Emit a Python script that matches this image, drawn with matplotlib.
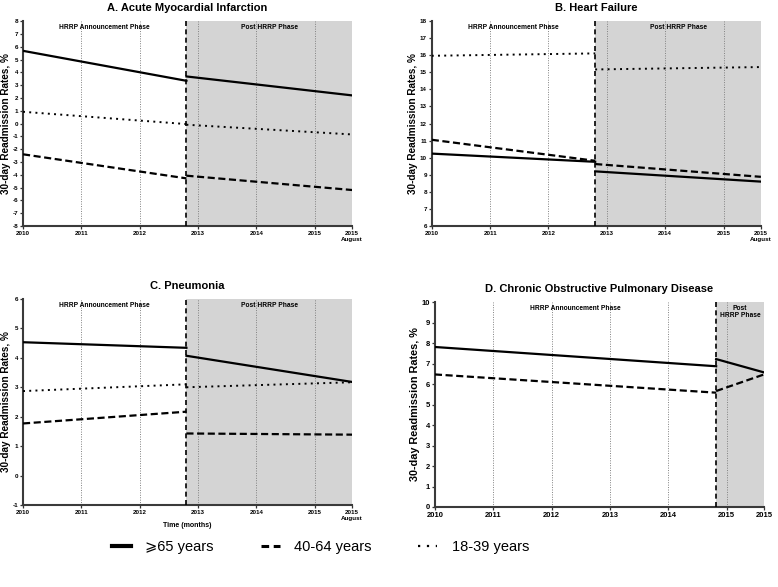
import matplotlib
matplotlib.use("Agg")
import matplotlib.pyplot as plt
from matplotlib.lines import Line2D

plt.rcParams['font.family'] = ['Liberation Sans', 'DejaVu Sans']
plt.rcParams['axes.unicode_minus'] = False

# data: each list = [pre start, pre end, post start, post end]
start_year = 2010
end_year = 2015.64
tick_pos = [2010, 2011, 2012, 2013, 2014, 2015, 2015.64]
tick_labels_a = ['2010', '2011', '2012', '2013', '2014', '2015', '2015\nAugust']
tick_labels_d = ['2010', '2011', '2012', '2013', '2014', '2015', '2015']

ami_65 = [5.68, 3.34, 3.68, 2.20]
ami_40 = [-2.40, -4.28, -4.07, -5.19]
ami_18 = [0.92, -0.04, -0.09, -0.85]

hf_65 = [10.24, 9.76, 9.20, 8.60]
hf_40 = [11.05, 9.82, 9.63, 8.88]
hf_18 = [15.97, 16.11, 15.17, 15.31]

pn_65 = [4.53, 4.34, 4.07, 3.18]
pn_40 = [1.77, 2.17, 1.43, 1.39]
pn_18 = [2.87, 3.10, 3.00, 3.17]

copd_65 = [7.81, 6.87, 7.22, 6.57]
copd_40 = [6.47, 5.58, 5.66, 6.47]

styles = {
    '65': dict(color='black', lw=1.6, linestyle='-'),
    '40': dict(color='black', lw=1.6, linestyle=(0, (3.2, 1.6))),
    '18': dict(color='black', lw=1.4, linestyle=(0, (1, 2.2))),
}


def draw_panel(ax, title, div, series, ylim, ticklabels, small=True):
    ax.axvspan(div, end_year, color='#d4d4d4', zorder=0, lw=0)
    for x in tick_pos[1:]:
        ax.axvline(x, color='#808080', lw=0.7, linestyle=(0, (1, 1.5)), zorder=1)
    ax.axvline(div, color='black', lw=1.2, linestyle=(0, (3, 2)), zorder=3)
    for key, vals in series:
        ax.plot([start_year, div], vals[:2], zorder=4, **styles[key])
        ax.plot([div, end_year], vals[2:], zorder=4, **styles[key])
    ax.set_xlim(start_year, end_year)
    ax.set_ylim(*ylim)
    ax.set_yticks(range(ylim[0], ylim[1] + 1))
    ax.set_xticks(tick_pos)
    fs = 4.5 if small else 5.5
    ax.set_xticklabels(ticklabels, fontsize=fs, fontweight='bold')
    for lab in ax.get_yticklabels():
        lab.set_fontsize(fs)
        lab.set_fontweight('bold')
    ax.tick_params(length=2.5, width=0.9, pad=1, color='#333333')
    for s in ['top', 'right']:
        ax.spines[s].set_visible(False)
    for s in ['left', 'bottom']:
        ax.spines[s].set_color('#3a3a3a')
        ax.spines[s].set_linewidth(1.5)
    ax.set_ylabel('30-day Readmission Rates, %', fontsize=7.2 if small else 7.8,
                  fontweight='bold', labelpad=1)
    ax.set_title(title, fontsize=8, fontweight='bold', pad=7)
    ax.text((start_year + div) / 2, 0.985, 'HRRP Announcement Phase', transform=ax.get_xaxis_transform(),
            ha='center', va='top', fontsize=4.8, fontweight='bold', zorder=5)


fig = plt.figure(figsize=(7.78, 5.87), dpi=100)

ax_a = fig.add_axes([0.0296, 0.615, 0.423, 0.349])
draw_panel(ax_a, 'A. Acute Myocardial Infarction', 2012.8,
           [('65', ami_65), ('40', ami_40), ('18', ami_18)], (-8, 8), tick_labels_a)
ax_a.text((2012.8 + end_year) / 2, 0.985, 'Post HRRP Phase', transform=ax_a.get_xaxis_transform(),
          ha='center', va='top', fontsize=4.8, fontweight='bold')

ax_b = fig.add_axes([0.555, 0.615, 0.423, 0.349])
draw_panel(ax_b, 'B. Heart Failure', 2012.8,
           [('65', hf_65), ('40', hf_40), ('18', hf_18)], (6, 18), tick_labels_a)
ax_b.text((2012.8 + end_year) / 2, 0.985, 'Post HRRP Phase', transform=ax_b.get_xaxis_transform(),
          ha='center', va='top', fontsize=4.8, fontweight='bold')

ax_c = fig.add_axes([0.0296, 0.1397, 0.423, 0.351])
draw_panel(ax_c, 'C. Pneumonia', 2012.8,
           [('65', pn_65), ('40', pn_40), ('18', pn_18)], (-1, 6), tick_labels_a)
ax_c.text((2012.8 + end_year) / 2, 0.985, 'Post HRRP Phase', transform=ax_c.get_xaxis_transform(),
          ha='center', va='top', fontsize=4.8, fontweight='bold')
ax_c.set_xlabel('Time (months)', fontsize=5, fontweight='bold', labelpad=1)

ax_d = fig.add_axes([0.559, 0.1363, 0.423, 0.349])
draw_panel(ax_d, 'D. Chronic Obstructive Pulmonary Disease', 2014.82,
           [('65', copd_65), ('40', copd_40)], (0, 10), tick_labels_d, small=False)
ax_d.text((2014.82 + end_year) / 2, 0.985, 'Post\nHRRP Phase', transform=ax_d.get_xaxis_transform(),
          ha='center', va='top', fontsize=4.8, fontweight='bold', linespacing=1.0)

handles = [Line2D([], [], color='black', lw=3, linestyle='-'),
           Line2D([], [], color='black', lw=2.2, linestyle=(0, (2.5, 1.5))),
           Line2D([], [], color='black', lw=1.6, linestyle=(0, (1, 3)))]
labels = ['\u2a7e65 years', '40-64 years', '18-39 years']
fig.legend(handles, labels, loc='center', bbox_to_anchor=(0.412, 0.068), ncol=3, frameon=False,
           fontsize=10.5, handlelength=1.3, handletextpad=1.0, columnspacing=3.2)

fig.savefig('out.png', dpi=100)
